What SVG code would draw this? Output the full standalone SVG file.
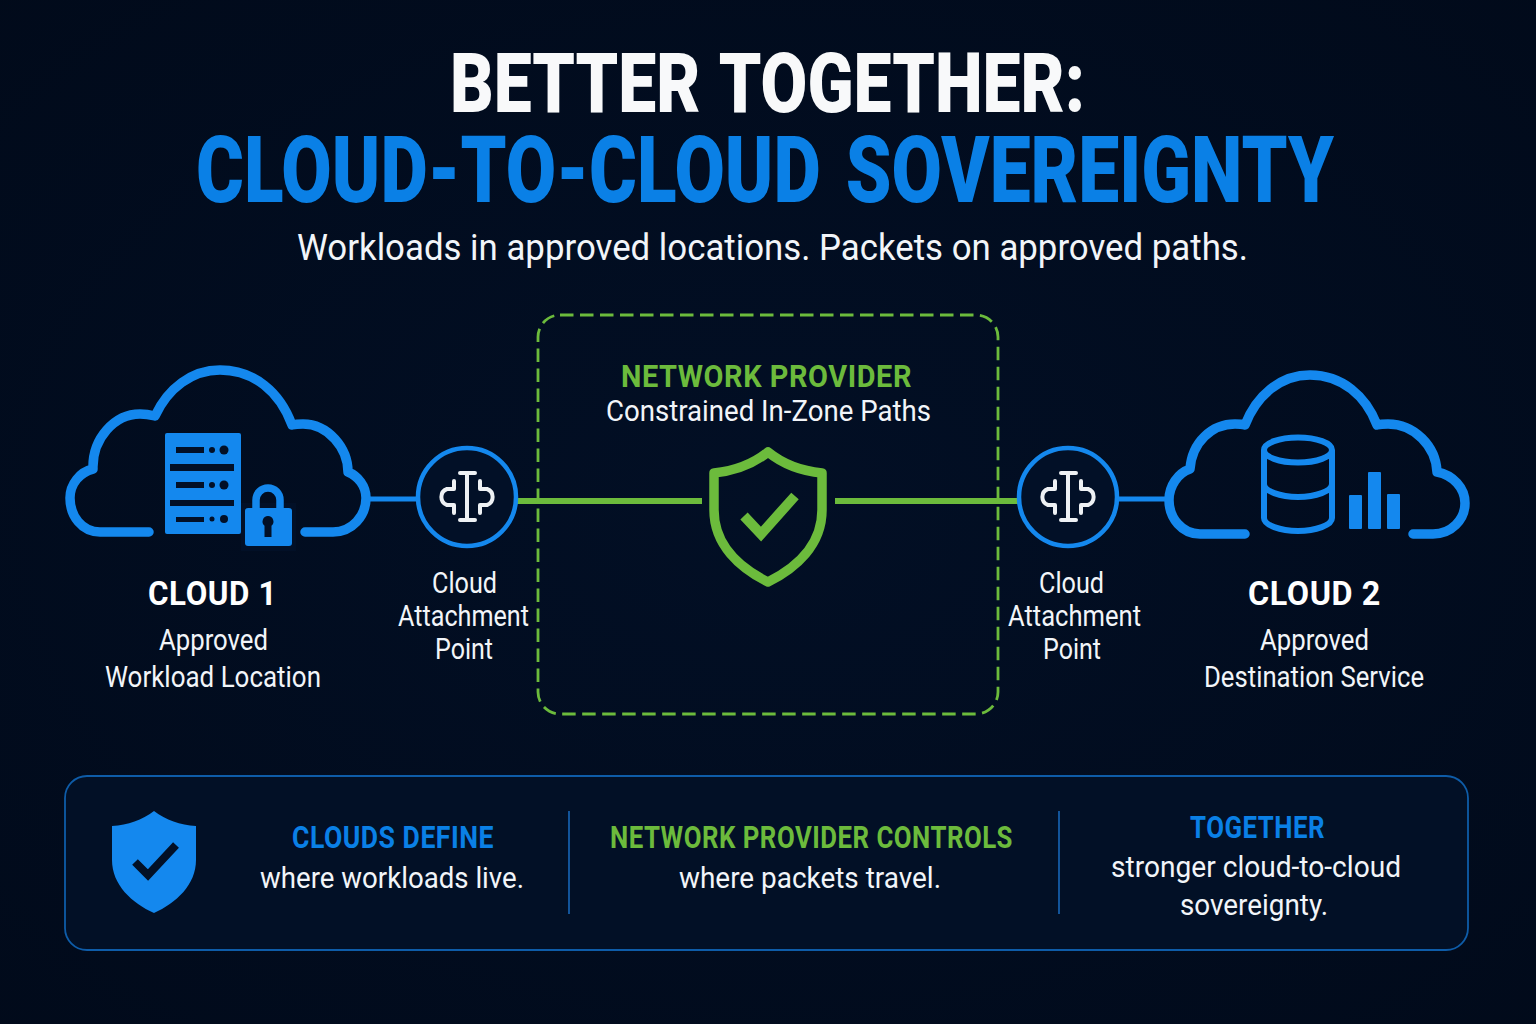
<svg xmlns="http://www.w3.org/2000/svg" width="1536" height="1024" viewBox="0 0 1536 1024">
<defs>
<radialGradient id="bg" cx="50%" cy="50%" r="75%"><stop offset="0" stop-color="#020F25"/><stop offset="1" stop-color="#010A1A"/></radialGradient>
</defs>
<style>
text{font-family:"Roboto","Liberation Sans",sans-serif}
.title{font-weight:900}
.head{font-weight:700;font-size:33px;fill:#fff;letter-spacing:.6px}
.hb{font-weight:700;font-size:31px;letter-spacing:.6px}
.body{font-weight:400;font-size:29px;fill:#F2F5F9}
.b{fill:#1488EE}.g{fill:#6CBB3C}
.blue{fill:#0A80E6}
.cloud{fill:none;stroke:#1488EE;stroke-width:9.5;stroke-linecap:round;stroke-linejoin:round}
.ring{fill:#021027;stroke:#1488EE;stroke-width:4.5}
.glyph{fill:none;stroke:#EEF1F4;stroke-width:4;stroke-linecap:round;stroke-linejoin:round}
.bl{stroke:#1488EE;stroke-width:5;fill:none}
.gl{stroke:#6CBB3C;stroke-width:6;fill:none}
.div{stroke:#1766B8;stroke-width:1.6}
</style>
<rect width="1536" height="1024" fill="url(#bg)"/>
<g id="title">
<text class="title" x="0" y="0" transform="translate(450 112) scale(1 1.05)" font-size="80" word-spacing="4" fill="#F8F9FA" textLength="635" lengthAdjust="spacingAndGlyphs">BETTER TOGETHER:</text>
<text class="title blue" x="0" y="0" transform="translate(196 202) scale(1 1.08)" font-size="85" word-spacing="8" textLength="1138" lengthAdjust="spacingAndGlyphs">CLOUD-TO-CLOUD SOVEREIGNTY</text>
<text x="297" y="260" font-size="36" fill="#F2F5F9" textLength="951" lengthAdjust="spacingAndGlyphs">Workloads in approved locations. Packets on approved paths.</text>
</g>
<g id="connectors">
<line class="bl" x1="366" y1="499" x2="420" y2="499"/>
<line class="gl" x1="515" y1="501" x2="702" y2="501"/>
<line class="gl" x1="835" y1="501" x2="1022" y2="501"/>
<line class="bl" x1="1116" y1="499" x2="1170" y2="499"/>
</g>
<g id="network-provider">
<rect x="538" y="315" width="460" height="399" rx="22" fill="none" stroke="#6CBB3C" stroke-width="2.800" stroke-dasharray="13.500 6.500"/>
<text class="hb g" x="621" y="387" textLength="291" lengthAdjust="spacingAndGlyphs">NETWORK PROVIDER</text>
<text class="body" x="606" y="421" textLength="325" lengthAdjust="spacingAndGlyphs">Constrained In-Zone Paths</text>
<path d="M768 452C752 465 735 471 714 473V510C714 545 740 568 768 582C796 568 822 545 822 510V473C801 471 784 465 768 452Z" fill="none" stroke="#6CBB3C" stroke-width="9.500" stroke-linejoin="round"/>
<path d="M744 516L761 534L795 496" fill="none" stroke="#6CBB3C" stroke-width="10"/>
</g>
<g id="cloud-1">
<path class="cloud" d="M149 532H100C82 532 70 516 70 498C70 484 80 472 93 469C92 438 115 414 140 414C146 414 151 415 155 416C168 388 192 370 220 370C254 370 280 392 292 425C296 424 299 424 303 424C328 424 348 448 348 472C358 476 366 486 366 498C366 516 352 532 333 532H305"/>
<rect x="165" y="433" width="76" height="101" rx="2" fill="#1488EE"/>
<g fill="#021027">
<rect x="170" y="464" width="64" height="7"/><rect x="170" y="500" width="64" height="6"/>
<rect x="176" y="447" width="28" height="6"/><circle cx="212" cy="450" r="3"/><circle cx="224" cy="450" r="4.500"/>
<rect x="176" y="482" width="28" height="6"/><circle cx="212" cy="485" r="3"/><circle cx="224" cy="485" r="4.500"/>
<rect x="176" y="517" width="28" height="5"/><circle cx="212" cy="519" r="2.500"/><circle cx="224" cy="519" r="4"/>
<rect x="241" y="503" width="55" height="48"/>
</g>
<path d="M256 510V500A12 12 0 0 1 280 500V510" fill="none" stroke="#1488EE" stroke-width="7.500"/>
<rect x="245" y="508" width="47" height="38" rx="3" fill="#1488EE"/>
<path d="M268 516a5.500 5.500 0 0 1 3.500 9.700V537h-7V525.700a5.500 5.500 0 0 1 3.500-9.700Z" fill="#021027"/>
<text class="head" x="148" y="605" textLength="129" lengthAdjust="spacingAndGlyphs">CLOUD 1</text>
<text class="body" x="159" y="650" textLength="109" lengthAdjust="spacingAndGlyphs">Approved</text>
<text class="body" x="105" y="687" textLength="216" lengthAdjust="spacingAndGlyphs">Workload Location</text>
</g>
<g id="attach-1">
<circle class="ring" cx="467" cy="497" r="49"/>
<path class="glyph" d="M467 473V520M460 473H475M460 520H475M454 481V489H447A8.500 8.500 0 0 0 447 505H454V513M480 481V489H487A8.500 8.500 0 0 1 487 505H480V513"/>
<text class="body" x="432" y="593" textLength="65" lengthAdjust="spacingAndGlyphs">Cloud</text>
<text class="body" x="398" y="626" textLength="131" lengthAdjust="spacingAndGlyphs">Attachment</text>
<text class="body" x="435" y="659" textLength="58" lengthAdjust="spacingAndGlyphs">Point</text>
</g>
<g id="attach-2">
<circle class="ring" cx="1068" cy="497" r="49"/>
<path class="glyph" d="M1068 473V520M1061 473H1076M1061 520H1076M1055 481V489H1048A8.500 8.500 0 0 0 1048 505H1055V513M1081 481V489H1088A8.500 8.500 0 0 1 1088 505H1081V513"/>
<text class="body" x="1039" y="593" textLength="65" lengthAdjust="spacingAndGlyphs">Cloud</text>
<text class="body" x="1008" y="626" textLength="133" lengthAdjust="spacingAndGlyphs">Attachment</text>
<text class="body" x="1043" y="659" textLength="58" lengthAdjust="spacingAndGlyphs">Point</text>
</g>
<g id="cloud-2">
<path class="cloud" d="M1245 534H1200C1182 534 1169 518 1169 500C1169 486 1178 473 1190 469C1192 442 1212 424 1235 424C1239 424 1242 424 1245 425C1256 396 1280 375 1310 375C1342 375 1366 396 1377 425C1381 424 1384 424 1388 424C1414 424 1436 446 1437 472C1453 475 1465 488 1465 503C1465 520 1451 534 1433 534H1413"/>
<g fill="none" stroke="#1488EE" stroke-width="6">
<ellipse cx="1298" cy="450" rx="34" ry="12.500"/>
<path d="M1264 450V518C1264 525 1280 531 1298 531C1316 531 1332 525 1332 518V450M1264 484C1264 491 1280 497 1298 497C1316 497 1332 491 1332 484"/>
</g>
<rect class="b" x="1349" y="495" width="13" height="34" rx="1"/>
<rect class="b" x="1368" y="472" width="13" height="57" rx="1"/>
<rect class="b" x="1387" y="494" width="13" height="35" rx="1"/>
<text class="head" x="1248" y="605" textLength="133" lengthAdjust="spacingAndGlyphs">CLOUD 2</text>
<text class="body" x="1260" y="650" textLength="109" lengthAdjust="spacingAndGlyphs">Approved</text>
<text class="body" x="1204" y="687" textLength="220" lengthAdjust="spacingAndGlyphs">Destination Service</text>
</g>
<g id="summary">
<rect x="65" y="776" width="1403" height="174" rx="22" fill="#021026" stroke="#0E5CA8" stroke-width="1.800"/>
<path d="M154 811C142 820 128 825 112 826V860C112 885 132 903 154 913C176 903 196 885 196 860V826C180 825 166 820 154 811Z" fill="#1488EE"/>
<path d="M135 862L148 875L176 845" fill="none" stroke="#021026" stroke-width="8"/>
<line class="div" x1="569" y1="811" x2="569" y2="914"/>
<line class="div" x1="1059" y1="811" x2="1059" y2="914"/>
<text class="hb blue" x="292" y="848" textLength="202" lengthAdjust="spacingAndGlyphs">CLOUDS DEFINE</text>
<text class="body" x="260" y="888" textLength="264" lengthAdjust="spacingAndGlyphs">where workloads live.</text>
<text class="hb g" x="610" y="848" textLength="403" lengthAdjust="spacingAndGlyphs">NETWORK PROVIDER CONTROLS</text>
<text class="body" x="679" y="888" textLength="262" lengthAdjust="spacingAndGlyphs">where packets travel.</text>
<text class="hb blue" x="1190" y="838" textLength="135" lengthAdjust="spacingAndGlyphs">TOGETHER</text>
<text class="body" x="1111" y="877" textLength="290" lengthAdjust="spacingAndGlyphs">stronger cloud-to-cloud</text>
<text class="body" x="1180" y="915" textLength="148" lengthAdjust="spacingAndGlyphs">sovereignty.</text>
</g>
</svg>
